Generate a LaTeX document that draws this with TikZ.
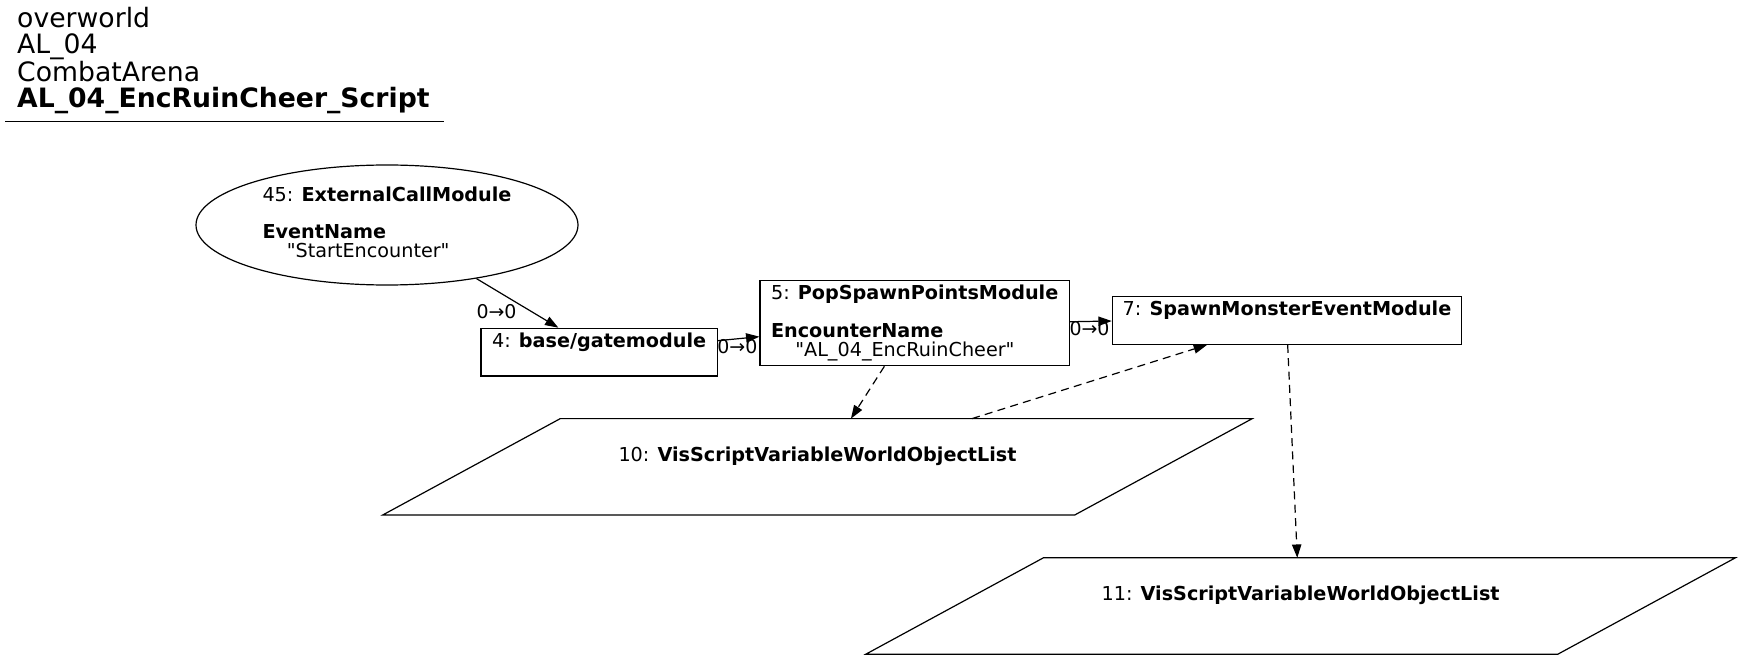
\documentclass[tikz,border=0pt]{standalone}
\usepackage{fontspec}
\setmainfont{DejaVu Sans}[Ligatures=TeXOff]
\usetikzlibrary{arrows.meta,shapes.geometric}
\newcommand{\ind}{\hspace*{18.2pt}}

\begin{document}
\begin{tikzpicture}[x=0.75pt,y=-0.75pt,>={Triangle[length=10pt,width=7pt]},line width=0.9pt,
box/.style={draw,align=left,inner sep=0pt,font=\fontsize{14.4}{14.2}\selectfont},
modbox/.style={box,rectangle},
callnode/.style={box,ellipse},
varnode/.style={box,draw=none,minimum width=518.1pt,minimum height=71.4pt},
lab/.style={anchor=base,inner sep=0pt,font=\fontsize{14.2}{14.2}\selectfont},
dep/.style={->,dash pattern=on 6pt off 4pt}]
\useasboundingbox (0,0) rectangle (1740,659);
% title
\node[anchor=base west,align=left,inner sep=0pt,font=\fontsize{20}{19.5}\selectfont] (title) at (16.6,107.3)
  {overworld\\AL\_04\\CombatArena\\\textbf{AL\_04\_EncRuinCheer\_Script}};
\draw (5,121.7) -- (444,121.7);
% modules
\node[callnode,minimum width=286.5pt,minimum height=90pt] (n45) at (387,225)
  {45: \textbf{ExternalCallModule}\\ \\ \textbf{EventName}\\ \ind"StartEncounter"\strut};
\node[modbox,minimum width=177.2pt,minimum height=35.8pt] (n4) at (599.15,352.15)
  {4: \textbf{base/gatemodule}\\ \strut};
\node[modbox,minimum width=232pt,minimum height=63.75pt] (n5) at (914.65,323.2)
  {5: \textbf{PopSpawnPointsModule}\\ \\ \textbf{EncounterName}\\ \ind"AL\_04\_EncRuinCheer"\strut};
\node[modbox,minimum width=262pt,minimum height=35.7pt] (n7) at (1287,320.5)
  {7: \textbf{SpawnMonsterEventModule}\\ \strut};
% variables
\node[varnode] (n10) at (817.5,466.8) {10: \textbf{VisScriptVariableWorldObjectList}\\ \strut};
\node[varnode] (n11) at (1300.6,606) {11: \textbf{VisScriptVariableWorldObjectList}\\ \strut};
\foreach \v in {n10,n11}
  \draw ([xshift=66.6pt]\v.north west) -- ([xshift=66.6pt]\v.north east)
    -- ([xshift=-66.6pt]\v.south east) -- ([xshift=-66.6pt]\v.south west) -- cycle;
% links
\draw[->] (n45) -- (n4);
\draw[->] ([yshift=8.6pt]n4.east) -- ([yshift=-10.1pt]n5.west);
\draw[->] ([yshift=1.1pt]n5.east) -- ([yshift=-0.4pt]n7.west);
\draw[dep] ([xshift=-22.7pt]n5.south) -- ([xshift=25.1pt]n10.north);
\draw[dep] ([xshift=115.9pt]n10.north) -- ([xshift=-60pt]n7.south);
\draw[dep] ([xshift=0.5pt]n7.south) -- ([xshift=-2.5pt]n11.north);
\node[lab] (l1) at (496.5,318) {0→0};
\node[lab] (l2) at (737.4,353.3) {0→0};
\node[lab] (l3) at (1089.5,335) {0→0};
\end{tikzpicture}
\end{document}
